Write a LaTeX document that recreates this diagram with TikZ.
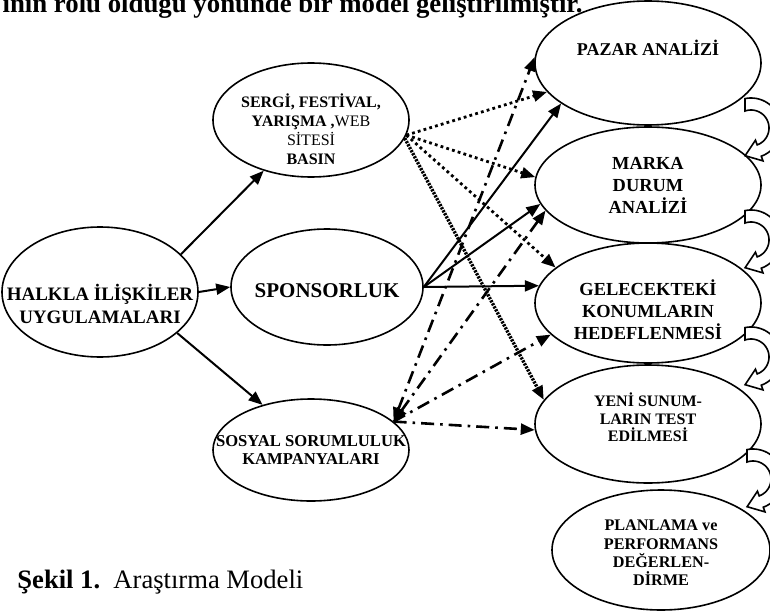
\documentclass[tikz,border=0pt]{standalone}
\usepackage{fontspec}
\setmainfont{Liberation Serif}
\usetikzlibrary{positioning, arrows.meta, shapes.geometric}
\tikzset{
    >={Triangle[length=7pt,width=5.5pt]},
    ovalbox/.style={
        draw,
        ellipse,
        line width=0.8pt,
        inner sep=0pt
    },
    ovaltext/.style={
        align=center,
        inner sep=0pt,
        font=\bfseries\fontsize{9.2}{11}\selectfont
    },
    arrow/.style={
        ->,
        line width=1pt
    },
    dotarrow/.style={
        arrow,
        line width=1.4pt,
        dash pattern=on 1.4pt off 1.6pt
    },
    chainarrow/.style={
        arrow,
        line width=1.7pt,
        dash pattern=on 1.1pt off 0.6pt
    },
    dasharrow/.style={
        arrow,
        line width=1.3pt,
        dash pattern=on 6.5pt off 3pt on 1.3pt off 3pt
    },
    bendarrow/.style={
        draw,
        fill=white,
        line width=0.8pt
    }
}

\begin{document}
\begin{tikzpicture}[x=0.5pt, y=-0.5pt]
\useasboundingbox (0,0) rectangle (770,610);
\clip (0,0) rectangle (770,610);

% ---------------------------------------------------------
% Nodes
% ---------------------------------------------------------

% Left: source
\node[ovalbox, minimum width=98pt, minimum height=65pt] (halkla) at (100,292) {};
\node[ovaltext, font=\bfseries\fontsize{9.5}{11.5}\selectfont] at ([yshift=-6pt]halkla.center)
    {HALKLA İLİŞKİLER\\UYGULAMALARI};

% Middle column
\node[ovalbox, minimum width=98pt, minimum height=57pt] (sergi) at (311,120) {};
\node[ovaltext, font=\bfseries\fontsize{8}{9.5}\selectfont] at ([yshift=-4.5pt]sergi.center)
    {SERGİ, FESTİVAL,\\YARIŞMA ,\textmd{WEB}\\\textmd{SİTESİ}\\BASIN};

\node[ovalbox, minimum width=96pt, minimum height=58pt] (sponsor) at (327,287) {};
\node[ovaltext, font=\bfseries\fontsize{10.5}{12}\selectfont] at ([yshift=-2pt]sponsor.center)
    {SPONSORLUK};

\node[ovalbox, minimum width=98pt, minimum height=51pt] (sosyal) at (311,450) {};
\node[ovaltext, font=\bfseries\fontsize{8.3}{9}\selectfont] at (sosyal.center)
    {SOSYAL SORUMLULUK\\KAMPANYALARI};

% Right column: steps
\node[ovalbox, minimum width=113pt, minimum height=62pt] (pazar) at (648,63) {};
\node[ovaltext, font=\bfseries\fontsize{9}{11}\selectfont] at ([yshift=7.75pt]pazar.center)
    {PAZAR ANALİZİ};

\node[ovalbox, minimum width=113pt, minimum height=58pt] (marka) at (648,185) {};
\node[ovaltext] at (marka.center) {MARKA\\DURUM\\ANALİZİ};

\node[ovalbox, minimum width=113pt, minimum height=60pt] (gelecek) at (648,303) {};
\node[ovaltext] at ([yshift=-3.5pt]gelecek.center) {GELECEKTEKİ\\KONUMLARIN\\HEDEFLENMESİ};

\node[ovalbox, minimum width=113pt, minimum height=59pt] (yeni) at (648,424) {};
\node[ovaltext, font=\bfseries\fontsize{8}{8.75}\selectfont] at ([yshift=3.25pt]yeni.center)
    {YENİ SUNUM-\\LARIN TEST\\EDİLMESİ};

\node[ovalbox, minimum width=109pt, minimum height=60pt] (planlama) at (661,550) {};
\node[ovaltext, font=\bfseries\fontsize{8.1}{9.2}\selectfont] at ([yshift=-1.5pt]planlama.center)
    {PLANLAMA ve\\PERFORMANS\\DEĞERLEN-\\DİRME};

% Texts
\node[anchor=base east, inner sep=0pt, font=\bfseries\fontsize{13.4}{16}\selectfont] (toptext) at (583,13)
    {ının rolü olduğu yönünde bir model geliştirilmiştir.};
\node[anchor=base west, inner sep=0pt, font=\fontsize{13.3}{16}\selectfont] (captiontext) at (17,588)
    {\textbf{Şekil 1.}\ \ Araştırma Modeli};

% ---------------------------------------------------------
% Arrows
% ---------------------------------------------------------

% Halkla -> middle column
\draw[arrow] (halkla.25) -- (sergi.227);
\draw[arrow] (halkla.0) -- (sponsor.180);
\draw[arrow] (halkla.-28) -- (sosyal.137);

% Sponsorluk -> steps
\draw[arrow] (sponsor.0) -- (pazar.205);
\draw[arrow] (sponsor.0) -- (marka.190);
\draw[arrow] (sponsor.0) -- (gelecek.171);

% Sergi -> steps
\draw[dotarrow] (sergi.-9) -- (pazar.196);
\draw[dotarrow] (sergi.-9) -- (marka.176);
\draw[dotarrow] (sergi.-9) -- (gelecek.159);
\draw[chainarrow] (sergi.-11) -- (yeni.167);

% Sosyal <-> steps
\draw[dasharrow, <->] (sosyal.19) -- (pazar.177);
\draw[dasharrow, <->] (sosyal.19) -- (marka.194);
\draw[dasharrow] (sosyal.19) -- (gelecek.198);
\draw[dasharrow] (sosyal.19) -- (yeni.183);

% Step to step (curved block arrows, bulging past the right edge)
\foreach \cx/\cy in {751/128, 751/240, 751/357, 753/479} {
    \begin{scope}[shift={(\cx,\cy)}]
        \draw[bendarrow] (-101.5:30) -- plot[domain=-101.5:70, samples=40] (\x:30)
            -- (70:35) -- (-5.9,27.7) -- (70:13) -- (70:18)
            -- plot[domain=70:-109.5, samples=40] (\x:18) -- cycle;
    \end{scope}
}

\end{tikzpicture}
\end{document}
